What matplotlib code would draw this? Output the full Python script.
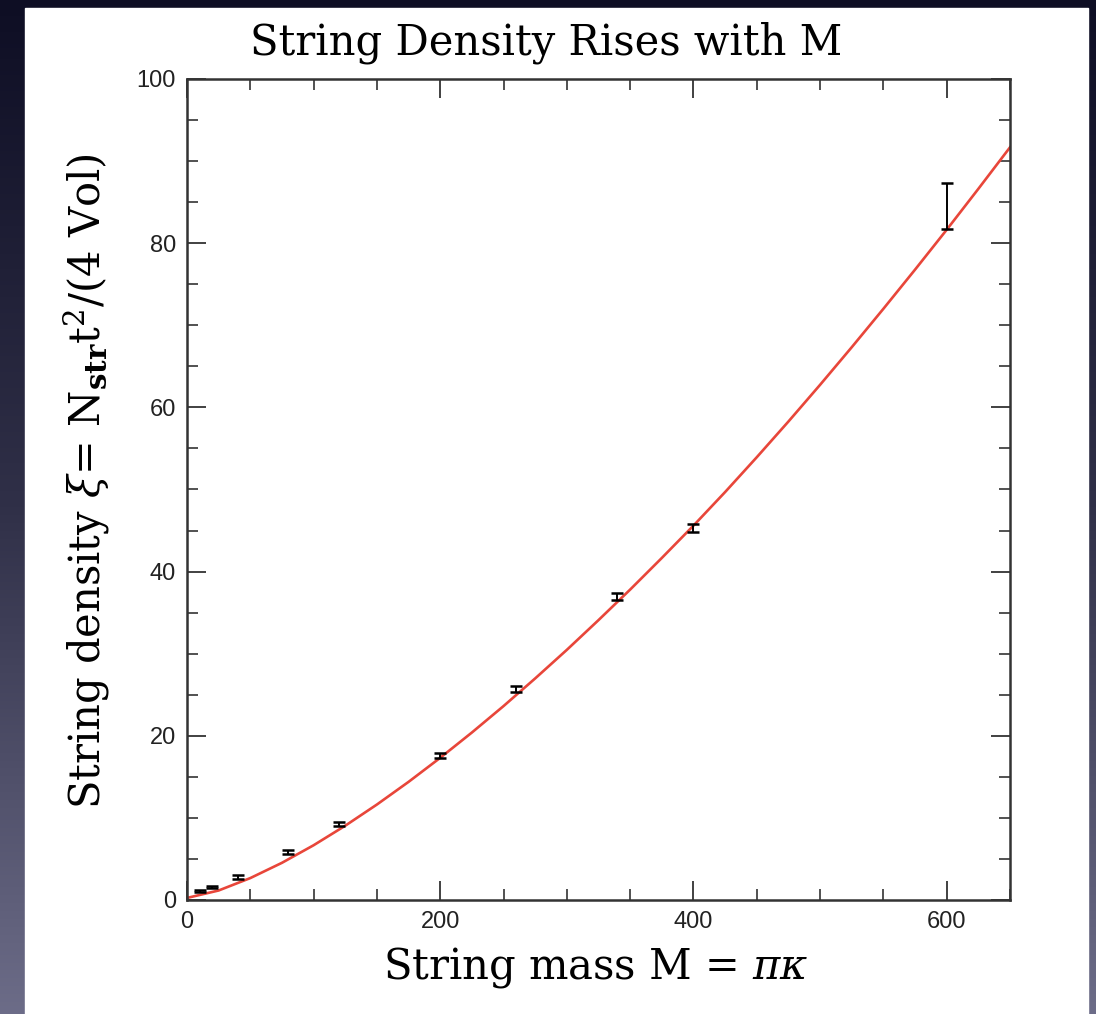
import numpy as np
import matplotlib
matplotlib.use("Agg")
import matplotlib.pyplot as plt
from matplotlib.colors import LinearSegmentedColormap
from matplotlib.patches import Rectangle
from matplotlib.ticker import MultipleLocator

# measured points (string mass, density, error)
mass = [10, 20, 40, 80, 120, 200, 260, 340, 400, 600]
density = [1.1, 1.6, 2.8, 5.85, 9.3, 17.6, 25.7, 37.0, 45.3, 84.5]
density_err = [0.15, 0.15, 0.2, 0.2, 0.25, 0.3, 0.35, 0.45, 0.5, 2.8]

# red fit curve, every 25 in M
curve_mass = [0, 25, 50, 75, 100, 125, 150, 175, 200, 225, 250, 275, 300, 325,
              350, 375, 400, 425, 450, 475, 500, 525, 550, 575, 600, 625, 650]
curve_density = [0.25, 1.16, 2.67, 4.53, 6.67, 9.05, 11.63, 14.39, 17.32, 20.40,
                 23.62, 26.99, 30.47, 34.09, 37.81, 41.66, 45.60, 49.69, 53.93,
                 58.28, 62.75, 67.33, 72.01, 76.78, 81.64, 86.62, 91.68]

W, H = 1096, 1014
fig = plt.figure(figsize=(W / 100, H / 100), dpi=100)

# slide background: dark gradient with white panel
bg = fig.add_axes([0, 0, 1, 1])
grad = np.linspace(0, 1, 256).reshape(-1, 1)
cmap = LinearSegmentedColormap.from_list("slide", ["#6c6c88", "#303048", "#0e0e24"])
bg.imshow(grad, aspect="auto", extent=[0, 1, 0, 1], cmap=cmap, origin="lower")
bg.add_patch(Rectangle((25 / W, 0), (1088 - 25) / W, (H - 8) / H, color="white"))
bg.set_xlim(0, 1)
bg.set_ylim(0, 1)
bg.axis("off")

serif = "DejaVu Serif"
plt.rcParams["mathtext.fontset"] = "dejavuserif"

ax = fig.add_axes([187 / W, (H - 900) / H, 823 / W, 821 / H])
ax.set_facecolor("white")

ax.plot(curve_mass, curve_density, color="#e8463a", lw=1.9, zorder=2)
ax.errorbar(mass, density, yerr=density_err, fmt="none", ecolor="black",
            elinewidth=1.4, capsize=4, capthick=1.8, zorder=3)

ax.set_xlim(0, 650)
ax.set_ylim(0, 100)
ax.xaxis.set_major_locator(MultipleLocator(200))
ax.xaxis.set_minor_locator(MultipleLocator(50))
ax.yaxis.set_major_locator(MultipleLocator(20))
ax.yaxis.set_minor_locator(MultipleLocator(5))
ax.tick_params(which="both", direction="in", top=True, right=True, color="#333333")
ax.tick_params(which="major", length=14, width=1.3, labelsize=17, pad=8, labelcolor="#222222")
ax.tick_params(which="minor", length=8, width=1.2)
for lab in ax.get_xticklabels() + ax.get_yticklabels():
    lab.set_family("Liberation Sans")
for s in ax.spines.values():
    s.set_linewidth(1.8)
    s.set_color("#333333")

ax.set_xlabel(r"String mass M = $\pi\kappa$", fontsize=30, family=serif)
ax.xaxis.label.set_va("center")
ax.xaxis.set_label_coords(0.497, -0.082)

ax.set_ylabel(r"String density $\xi$= N$_{\mathbf{str}}$t$^2$/(4 Vol)", fontsize=30, family=serif)
ax.yaxis.label.set_va("center")
ax.yaxis.set_label_coords(-0.122, 0.51)

ax.text(0.436, 1.044, "String Density Rises with M", transform=ax.transAxes,
        ha="center", va="center", fontsize=30, family=serif)

fig.savefig("out.png", dpi=100)
